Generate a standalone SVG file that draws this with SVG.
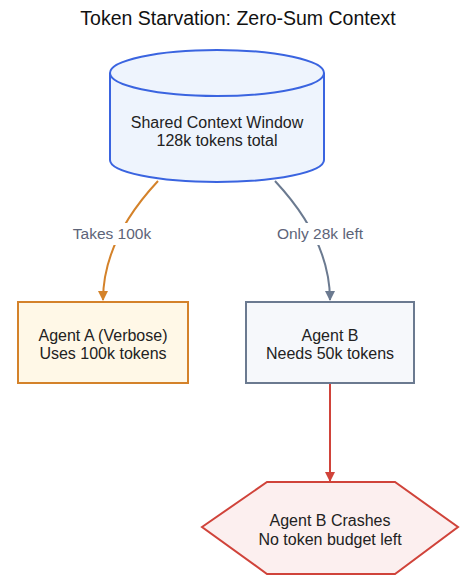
<svg xmlns="http://www.w3.org/2000/svg" width="476" height="584" viewBox="0 0 476 584">
<style>
text{font-family:"Liberation Sans",Arial,sans-serif;font-size:16px;fill:#222;text-anchor:middle}
.title{font-size:19.5px;fill:#111}
.lbl{fill:#5d6478;font-size:15.5px}
.edge{fill:none;stroke-width:2}
</style>
<defs>
<marker id="aO" viewBox="0 0 10 10" refX="9" refY="5" markerWidth="10" markerHeight="10" markerUnits="userSpaceOnUse" orient="auto"><path d="M0,0L10,5L0,10z" fill="#d4822a"/></marker>
<marker id="aG" viewBox="0 0 10 10" refX="9" refY="5" markerWidth="10" markerHeight="10" markerUnits="userSpaceOnUse" orient="auto"><path d="M0,0L10,5L0,10z" fill="#6b7a90"/></marker>
<marker id="aR" viewBox="0 0 10 10" refX="9" refY="5" markerWidth="10" markerHeight="10" markerUnits="userSpaceOnUse" orient="auto"><path d="M0,0L10,5L0,10z" fill="#d0433a"/></marker>
</defs>
<rect width="476" height="584" fill="#fff"/>
<text class="title" x="238" y="25">Token Starvation: Zero-Sum Context</text>
<g id="edges">
<path class="edge" d="M158,181 Q103,240 103,300" stroke="#d4822a" marker-end="url(#aO)"/>
<path class="edge" d="M275,181 Q330,240 330,300" stroke="#6b7a90" marker-end="url(#aG)"/>
<path class="edge" d="M330,383 L330,481" stroke="#d0433a" marker-end="url(#aR)"/>
<rect x="68" y="223" width="90" height="22" fill="#fff"/>
<text class="lbl" x="112" y="239">Takes 100k</text>
<rect x="270" y="223" width="100" height="22" fill="#fff"/>
<text class="lbl" x="320" y="239">Only 28k left</text>
</g>
<g id="context">
<path d="M110,73 L110,160 A107,22 0 0 0 324,160 L324,73" fill="#eef4fd" stroke="#3a64e0" stroke-width="2"/>
<ellipse cx="217" cy="73" rx="107" ry="23" fill="#eef4fd" stroke="#3a64e0" stroke-width="2"/>
<text x="217" y="128">Shared Context Window</text>
<text x="217" y="145.5">128k tokens total</text>
</g>
<g id="agentA">
<rect x="18" y="302" width="170" height="81" fill="#fff8e7" stroke="#d4822a" stroke-width="2"/>
<text x="103" y="341">Agent A (Verbose)</text>
<text x="103" y="359">Uses 100k tokens</text>
</g>
<g id="agentB">
<rect x="246" y="302" width="168" height="81" fill="#f6f8fb" stroke="#6b7a90" stroke-width="2"/>
<text x="330" y="341">Agent B</text>
<text x="330" y="359">Needs 50k tokens</text>
</g>
<g id="crash">
<polygon points="202,527 267,482 395,482 458,527 395,574 267,574" fill="#fcefef" stroke="#d0433a" stroke-width="2"/>
<text x="330" y="526">Agent B Crashes</text>
<text x="330" y="545">No token budget left</text>
</g>
</svg>
